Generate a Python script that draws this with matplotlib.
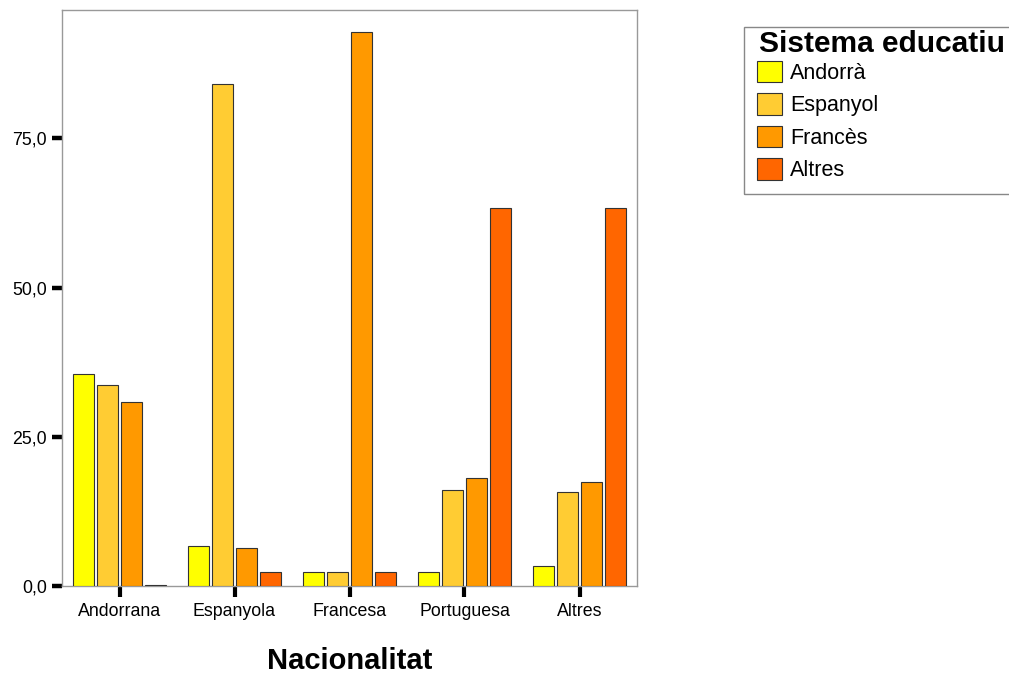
import matplotlib
matplotlib.use('Agg')
import matplotlib.pyplot as plt
from matplotlib.patches import Rectangle
import numpy as np

# Nacionalitat groups and values per educational system (percent)
nationalities = ["Andorrana", "Espanyola", "Francesa", "Portuguesa", "Altres"]
systems = ["Andorrà", "Espanyol", "Francès", "Altres"]
andorra_vals = [35.5, 6.7, 2.4, 2.4, 3.4]
espanyol_vals = [33.6, 84.1, 2.4, 16.1, 15.8]
frances_vals = [30.8, 6.4, 92.8, 18.1, 17.4]
altres_vals = [0.15, 2.4, 2.4, 63.3, 63.3]
system_colors = ["#FFFF00", "#FFCC33", "#FF9900", "#FF6600"]
y_ticks = [0, 25, 50, 75]

plt.rcParams['font.family'] = ['Liberation Sans', 'DejaVu Sans']

W, H = 1009, 679
fig = plt.figure(figsize=(W / 100, H / 100), dpi=100)
ax = fig.add_axes([62 / W, 1 - 586 / H, 575 / W, 576 / H])

x = np.arange(len(nationalities))
step = 0.21
width = 0.183
series = [andorra_vals, espanyol_vals, frances_vals, altres_vals]
for i, (name, vals, color) in enumerate(zip(systems, series, system_colors)):
    ax.bar(x + (i - 1.5) * step, vals, width=width, color=color,
           edgecolor='#333333', linewidth=0.8, label=name, zorder=3)

ax.set_xlim(-0.5, 4.5)
ax.set_ylim(0, 96.5)
ax.set_yticks(y_ticks)
ax.set_yticklabels([f"{v:.1f}".replace('.', ',') for v in y_ticks])
ax.set_xticks(x)
ax.set_xticklabels(nationalities)

for spine in ax.spines.values():
    spine.set_color('#999999')
    spine.set_linewidth(1.0)

ax.tick_params(axis='y', direction='out', length=7.5, width=3.2, color='black',
               labelsize=12.8, pad=3.5)
ax.tick_params(axis='x', direction='out', length=8, width=3.0, color='black',
               labelsize=12.8, pad=4)

ax.set_xlabel("Nacionalitat", fontsize=21, fontweight='bold', labelpad=20)

# Legend: frame and title drawn by hand, entries from the bars
fig.patches.append(Rectangle((744 / W, 1 - 194 / H), 300 / W, 167 / H,
                             transform=fig.transFigure, fill=False,
                             edgecolor='#888888', linewidth=1.0))
fig.text(759 / W, 1 - 52 / H, "Sistema educatiu", fontsize=21.5,
         fontweight='bold', ha='left', va='baseline')
leg = fig.legend(loc='upper left', bbox_to_anchor=(757 / W, 1 - 61 / H),
                 fontsize=15.5, frameon=False,
                 handlelength=1.15, handleheight=1.15, handletextpad=0.4,
                 labelspacing=0.44, borderpad=0, borderaxespad=0)

fig.savefig("out.png", dpi=100, facecolor='white')
